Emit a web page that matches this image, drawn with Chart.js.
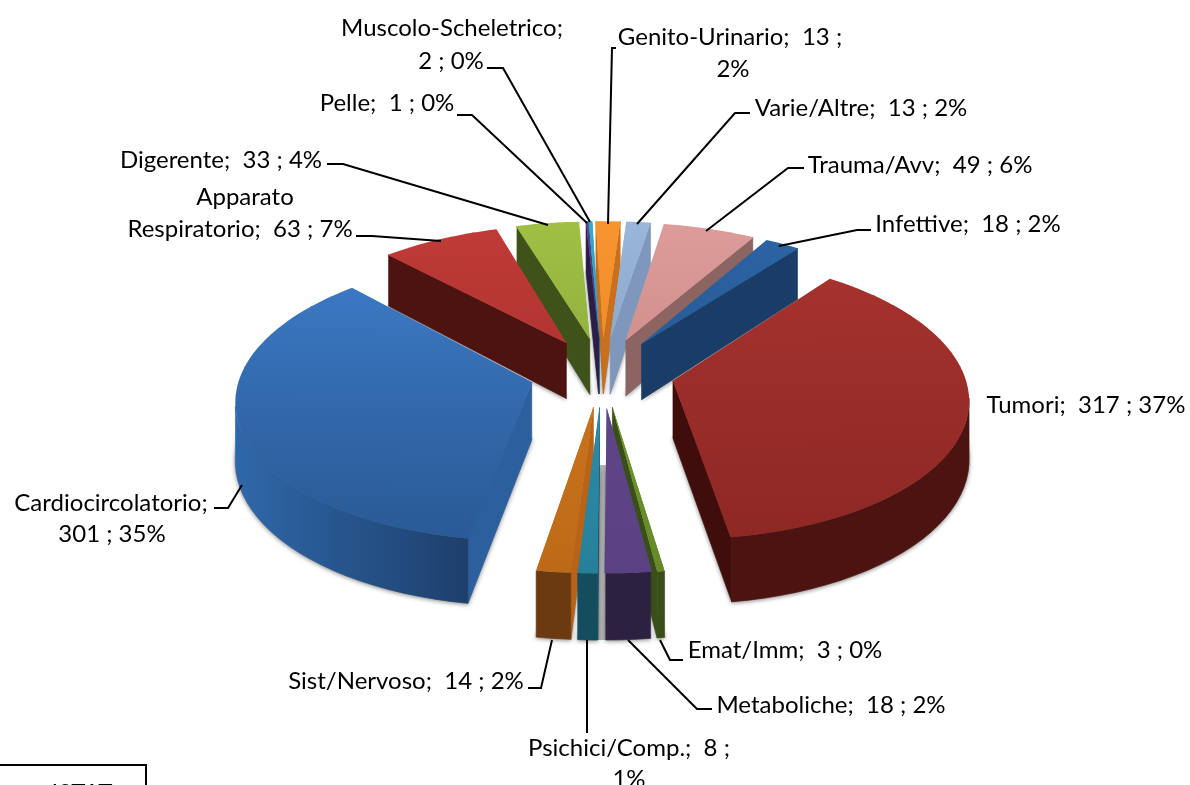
<!DOCTYPE html>
<html>
<head>
<meta charset="utf-8">
<title>Cause di morte</title>
<script src="https://cdn.jsdelivr.net/npm/chart.js@4/dist/chart.umd.min.js"></script>
<style>
  html, body { margin: 0; padding: 0; background: #fff; overflow: hidden; }
  canvas { display: block; }
</style>
</head>
<body>
<canvas id="pie" width="1190" height="785"></canvas>
<script>
// Data, clockwise from the first slice
const categories = ['Infettive', 'Tumori', 'Emat/Imm', 'Metaboliche', 'Psichici/Comp.', 'Sist/Nervoso', 'Cardiocircolatorio',
  'Apparato Respiratorio', 'Digerente', 'Pelle', 'Muscolo-Scheletrico', 'Genito-Urinario', 'Varie/Altre', 'Trauma/Avv'];
const values = [18, 317, 3, 18, 8, 14, 301, 63, 33, 1, 2, 13, 13, 49];

// Slice colours: top face (light, dark), cut face, rim (left, right)
const topLight = ['#2c64a6', '#a8332f', '#7ba332', '#634a90', '#2f96b4', '#d67a1e', '#3e7dca', '#c03b37', '#9fc044', '#5d3f90', '#33a9cc', '#f9952f', '#9ab6da', '#dc9c9a'];
const topDark  = ['#245489', '#8e2825', '#66882a', '#5a4182', '#27809b', '#bd6a18', '#2a5a96', '#a42f2c', '#86a53a', '#4e3579', '#2b90ae', '#e8861f', '#7f9cc4', '#c88684'];
const cutColor = ['#1a3d68', '#3f0d0c', '#3a4e18', '#2c2140', '#134d5e', '#b86318', '#2c5f9e', '#4d1310', '#3e5219', '#2b1d47', '#17566a', '#c9701f', '#7f97bb', '#8c6462'];
const rimLeft  = ['#1a3d68', '#4c1311', '#3a4e18', '#2c2140', '#134d5e', '#6b3a10', '#2f68aa', '#4d1310', '#3e5219', '#2b1d47', '#17566a', '#a35a18', '#7f97bb', '#8c6462'];
const rimRight = ['#1a3d68', '#4c1311', '#3a4e18', '#2c2140', '#134d5e', '#6b3a10', '#1d3f6b', '#4d1310', '#3e5219', '#2b1d47', '#17566a', '#a35a18', '#7f97bb', '#8c6462'];

// Where each label breaks, where it sits (line centres) and its leader line
const labelLayout = {
  'Infettive': { lines: [[968, 224]], leader: [[871, 230], [857, 230], [779, 246]] },
  'Tumori': { lines: [[1086, 405]], leader: [] },
  'Emat/Imm': { lines: [[785, 650]], leader: [[683, 660], [670, 660], [660, 640]] },
  'Metaboliche': { lines: [[831, 705]], leader: [[712, 709], [697, 709], [628, 640]] },
  'Psichici/Comp.': { lines: [[629, 748], [629, 779]], split: '8 ;', leader: [[587, 733], [587, 640]] },
  'Sist/Nervoso': { lines: [[406, 681]], leader: [[528, 688], [541, 688], [552, 640]] },
  'Cardiocircolatorio': { lines: [[111, 503], [112, 534]], split: 'Cardiocircolatorio;', leader: [[214, 508], [228, 508], [242, 485]] },
  'Apparato Respiratorio': { lines: [[245, 197], [240, 229]], split: 'Apparato', leader: [[356, 236], [372, 236], [441, 241]] },
  'Digerente': { lines: [[221, 160]], leader: [[327, 164], [343, 164], [548, 225]] },
  'Pelle': { lines: [[387, 103]], leader: [[457, 115], [472, 115], [587, 223]] },
  'Muscolo-Scheletrico': { lines: [[452, 28], [451, 61]], split: 'Muscolo-Scheletrico;', leader: [[487, 68], [503, 68], [590, 222]] },
  'Genito-Urinario': { lines: [[730, 37], [733, 69]], split: '13 ;', leader: [[616, 48], [612, 48], [608, 224]] },
  'Varie/Altre': { lines: [[861, 108]], leader: [[750, 113], [735, 113], [637, 224]] },
  'Trauma/Avv': { lines: [[920, 165]], leader: [[804, 168], [788, 168], [706, 231]] }
};

// Projection of the pie plane onto the page
const view = { cx: 602, cy: 372, fx: 291, fy: 138, fz: 57, k: 0.115, explode: 0.25 };
const labelFont = '24px Lato';

function project(px, py, z) {
  const s = 1 / (1 - view.k * py);
  return {
    x: view.cx + view.fx * px * s,
    y: view.cy + view.fy * py * s + view.fz * z * s
  };
}

function labelLinesFor(i) {
  const total = values.reduce((a, b) => a + b, 0);
  const pct = Math.round(values[i] / total * 100);
  const full = `${categories[i]};  ${values[i]} ; ${pct}%`;
  const split = labelLayout[categories[i]].split;
  if (!split) return [full];
  const cut = full.indexOf(split) + split.length;
  return [full.slice(0, cut).trim(), full.slice(cut).trim()];
}

function drawPoly(ctx, pts, fill) {
  ctx.beginPath();
  pts.forEach((p, n) => n ? ctx.lineTo(p.x, p.y) : ctx.moveTo(p.x, p.y));
  ctx.closePath();
  ctx.fillStyle = fill;
  ctx.strokeStyle = fill;
  ctx.lineWidth = 0.6;
  ctx.fill();
  ctx.stroke();
}

function drawSlice(ctx, arc, i) {
  const mid = (arc.startAngle + arc.endAngle) / 2;
  const ox = Math.cos(mid) * view.explode;
  const oy = Math.sin(mid) * view.explode;
  const span = arc.endAngle - arc.startAngle;
  const plane = a => [ox + Math.cos(a), oy + Math.sin(a)];

  // outline of the top face, clockwise on the page
  const steps = Math.max(1, Math.ceil(span / (Math.PI / 60)));
  const rim = [];
  for (let n = 0; n <= steps; n++) rim.push(plane(arc.startAngle + span * n / steps));

  // soft shadow under the solid
  const floor = [[ox, oy], ...rim].map(p => project(p[0], p[1], 1));
  ctx.save();
  ctx.shadowColor = 'rgba(0,0,0,0.45)';
  ctx.shadowBlur = 4;
  ctx.shadowOffsetY = 1;
  drawPoly(ctx, floor, '#888');
  ctx.restore();

  // walls: only edges running right to left face the viewer
  const wall = (a, b, fill) => {
    const pa = project(a[0], a[1], 0), pb = project(b[0], b[1], 0);
    if (pb.x >= pa.x) return;
    drawPoly(ctx, [pa, pb, project(b[0], b[1], 1), project(a[0], a[1], 1)], fill);
  };
  wall([ox, oy], rim[0], cutColor[i]);
  wall(rim[steps], [ox, oy], cutColor[i]);

  // rim: one polygon over the visible run
  const tops = rim.map(p => project(p[0], p[1], 0));
  const visible = rim.filter((p, n) =>
    (n < steps && tops[n + 1].x < tops[n].x) || (n > 0 && tops[n].x < tops[n - 1].x));
  if (visible.length > 1) {
    const xs = visible.map(p => project(p[0], p[1], 0).x);
    const rimGrad = ctx.createLinearGradient(Math.min(...xs), 0, Math.max(...xs) + 1, 0);
    rimGrad.addColorStop(0, rimLeft[i]);
    rimGrad.addColorStop(1, rimRight[i]);
    const upper = visible.map(p => project(p[0], p[1], 0));
    const lower = visible.map(p => project(p[0], p[1], 1)).reverse();
    drawPoly(ctx, upper.concat(lower), rimGrad);
  }

  // backing under the top face so the seams between the pieces below stay hidden
  const backGrad = ctx.createLinearGradient(0, project(0, -1, 0).y, 0, project(0, 1, 0).y);
  backGrad.addColorStop(0, topLight[i]);
  backGrad.addColorStop(1, topDark[i]);
  const inset = 0.99;
  const inner = rim.map(p => [ox + (p[0] - ox) * inset, oy + (p[1] - oy) * inset]);
  const back = [[ox, oy], ...inner].map(p => project(p[0], p[1], 0));
  ctx.beginPath();
  back.forEach((p, n) => n ? ctx.lineTo(p.x, p.y) : ctx.moveTo(p.x, p.y));
  ctx.closePath();
  ctx.fillStyle = backGrad;
  ctx.fill();

  // top face: the library's own arc, drawn in small pieces so each one can be fitted to the perspective
  const saved = { start: arc.startAngle, end: arc.endAngle, circ: arc.circumference, options: arc.options };
  const R = arc.outerRadius;
  const grad = ctx.createLinearGradient(0, arc.y - R, 0, arc.y + R);
  grad.addColorStop(0, topLight[i]);
  grad.addColorStop(1, topDark[i]);
  arc.options = Object.assign({}, saved.options, { backgroundColor: grad, borderWidth: 0 });
  const pieces = Math.max(1, Math.ceil(span / (Math.PI / 30)));
  const overlap = pieces > 1 ? 0.004 : 0;
  for (let n = 0; n < pieces; n++) {
    const a = saved.start + span * n / pieces - overlap;
    const b = saved.start + span * (n + 1) / pieces + overlap;
    const u = { x: R * Math.cos(a), y: R * Math.sin(a) };
    const v = { x: R * Math.cos(b), y: R * Math.sin(b) };
    const p0 = project(ox, oy, 0);
    const pa = project(ox + Math.cos(a), oy + Math.sin(a), 0);
    const pb = project(ox + Math.cos(b), oy + Math.sin(b), 0);
    const ax = pa.x - p0.x, ay = pa.y - p0.y, bx = pb.x - p0.x, by = pb.y - p0.y;
    const D = u.x * v.y - u.y * v.x;
    const m11 = (ax * v.y - bx * u.y) / D;
    const m12 = (bx * u.x - ax * v.x) / D;
    const m21 = (ay * v.y - by * u.y) / D;
    const m22 = (by * u.x - ay * v.x) / D;
    ctx.save();
    ctx.transform(m11, m21, m12, m22, p0.x - m11 * arc.x - m12 * arc.y, p0.y - m21 * arc.x - m22 * arc.y);
    arc.startAngle = a;
    arc.endAngle = b;
    arc.circumference = b - a;
    arc.draw(ctx);
    ctx.restore();
  }
  arc.startAngle = saved.start;
  arc.endAngle = saved.end;
  arc.circumference = saved.circ;
  arc.options = saved.options;
}

const pie3d = {
  id: 'pie3d',
  beforeDatasetsDraw(chart) {
    const ctx = chart.ctx;
    const arcs = chart.getDatasetMeta(0).data;
    // grey shadow showing through the gap between the front slices
    ctx.fillStyle = '#b4b4b4';
    ctx.fillRect(595, 465, 12, 175);
    // back slices first
    const order = arcs.map((arc, i) => i).sort((a, b) => {
      const ma = (arcs[a].startAngle + arcs[a].endAngle) / 2;
      const mb = (arcs[b].startAngle + arcs[b].endAngle) / 2;
      return Math.sin(ma) - Math.sin(mb);
    });
    order.forEach(i => drawSlice(ctx, arcs[i], i));
    return false;
  },
  afterDraw(chart) {
    const ctx = chart.ctx;
    ctx.save();
    // leader lines
    ctx.strokeStyle = '#000';
    ctx.lineWidth = 2;
    categories.forEach(name => {
      const pts = labelLayout[name].leader;
      if (!pts.length) return;
      ctx.beginPath();
      pts.forEach((p, n) => n ? ctx.lineTo(p[0], p[1]) : ctx.moveTo(p[0], p[1]));
      ctx.stroke();
    });
    // labels
    ctx.fillStyle = '#000';
    ctx.font = labelFont;
    ctx.textAlign = 'center';
    ctx.textBaseline = 'middle';
    categories.forEach((name, i) => {
      labelLinesFor(i).forEach((line, n) => {
        const pos = labelLayout[name].lines[n];
        ctx.fillText(line, pos[0], pos[1]);
      });
    });
    // source box, cut by the bottom of the page
    ctx.lineWidth = 2;
    ctx.beginPath();
    ctx.moveTo(0, 765);
    ctx.lineTo(146, 765);
    ctx.lineTo(146, 785);
    ctx.stroke();
    ctx.fillText('ISTAT', 82, 793);
    ctx.restore();
  }
};

new Chart(document.getElementById('pie'), {
  type: 'pie',
  data: {
    labels: categories,
    datasets: [{ data: values, backgroundColor: topLight, borderWidth: 0 }]
  },
  options: {
    responsive: false,
    animation: false,
    rotation: 30,
    plugins: { legend: { display: false }, tooltip: { enabled: false } }
  },
  plugins: [pie3d]
});
</script>
</body>
</html>
